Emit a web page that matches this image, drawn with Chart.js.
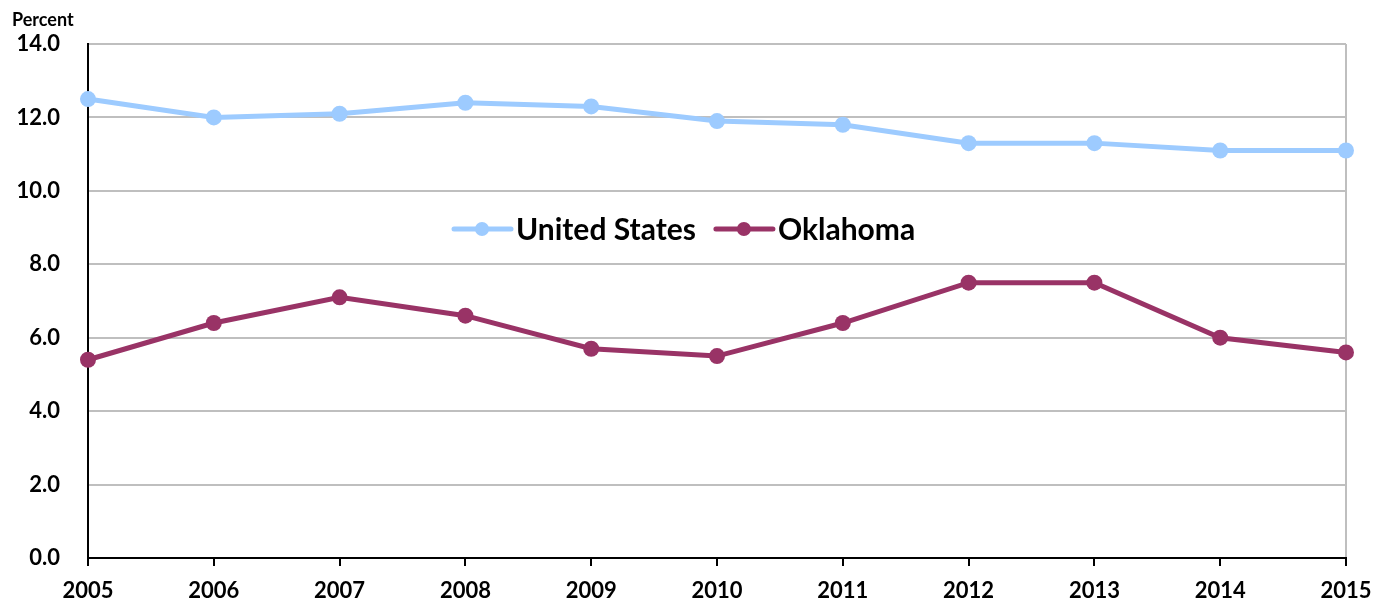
<!DOCTYPE html>
<html>
<head>
<meta charset="utf-8">
<script src="https://cdn.jsdelivr.net/npm/chart.js@4.4.0/dist/chart.umd.min.js"></script>
<style>
  html, body { margin: 0; padding: 0; background: #fff; }
  #wrap { width: 1389px; height: 607px; position: relative; }
</style>
</head>
<body>
<div id="wrap"><canvas id="chart"></canvas></div>
<script>
// Datos
const years = ['2005', '2006', '2007', '2008', '2009', '2010', '2011', '2012', '2013', '2014', '2015'];
const unitedStates = [12.5, 12.0, 12.1, 12.4, 12.3, 11.9, 11.8, 11.3, 11.3, 11.1, 11.1];
const oklahoma = [5.4, 6.4, 7.1, 6.6, 5.7, 5.5, 6.4, 7.5, 7.5, 6.0, 5.6];
const seriesNames = ['United States', 'Oklahoma'];

const FONT = "Lato, 'Open Sans', sans-serif";

// Leyenda dentro del área del gráfico + etiqueta "Percent"
const extrasPlugin = {
  id: 'extras',
  afterDraw(chart) {
    const ctx = chart.ctx;
    const area = chart.chartArea;
    ctx.save();
    ctx.fillStyle = '#000';
    ctx.font = `bold 18px ${FONT}`;
    ctx.textBaseline = 'middle';
    ctx.textAlign = 'left';
    ctx.fillText('Percent', 12, 20);

    // leyenda
    ctx.font = `bold 30px ${FONT}`;
    const y = 229;
    let x = area.left + 366;
    chart.data.datasets.forEach((ds) => {
      ctx.strokeStyle = ds.borderColor;
      ctx.lineWidth = 5;
      ctx.lineCap = 'round';
      ctx.beginPath();
      ctx.moveTo(x, y);
      ctx.lineTo(x + 57, y);
      ctx.stroke();
      ctx.fillStyle = ds.borderColor;
      ctx.beginPath();
      ctx.arc(x + 28, y, 7, 0, Math.PI * 2);
      ctx.fill();
      ctx.fillStyle = '#000';
      ctx.fillText(ds.label, x + 62, y + 1);
      x += 62 + ctx.measureText(ds.label).width + 20;
    });
    ctx.restore();
  }
};

new Chart(document.getElementById('chart'), {
  type: 'line',
  data: {
    labels: years,
    datasets: [
      {
        label: seriesNames[0],
        data: unitedStates,
        borderColor: '#9dcbff',
        backgroundColor: '#9dcbff',
        borderWidth: 5,
        pointRadius: 8,
        pointHoverRadius: 8,
        pointBorderWidth: 0,
        tension: 0,
        clip: false
      },
      {
        label: seriesNames[1],
        data: oklahoma,
        borderColor: '#993366',
        backgroundColor: '#993366',
        borderWidth: 5,
        pointRadius: 8,
        pointHoverRadius: 8,
        pointBorderWidth: 0,
        tension: 0,
        clip: false
      }
    ]
  },
  options: {
    responsive: true,
    maintainAspectRatio: false,
    animation: false,
    layout: { padding: { top: 44, right: 43, left: 0, bottom: 0 } },
    plugins: {
      legend: { display: false },
      tooltip: { enabled: false },
      title: { display: false }
    },
    scales: {
      x: {
        offset: false,
        afterFit: (scale) => { scale.height = 49; },
        border: { color: '#000', width: 2 },
        grid: {
          drawOnChartArea: true,
          color: (c) => (c.index === years.length - 1 ? '#bfbfbf' : 'rgba(0,0,0,0)'),
          lineWidth: 2,
          tickColor: '#000',
          tickLength: 8,
          tickWidth: 2
        },
        ticks: {
          color: '#000',
          font: { family: FONT, size: 22, weight: 'bold' },
          padding: 12,
          maxRotation: 0,
          autoSkip: false
        }
      },
      y: {
        min: 0,
        max: 14,
        afterFit: (scale) => { scale.width = 88; },
        border: { color: '#000', width: 2 },
        grid: {
          color: '#bfbfbf',
          lineWidth: 2,
          drawTicks: false
        },
        ticks: {
          stepSize: 2,
          color: '#000',
          padding: 28,
          font: { family: FONT, size: 22, weight: 'bold' },
          callback: (v) => v.toFixed(1)
        }
      }
    }
  },
  plugins: [extrasPlugin]
});
</script>
</body>
</html>
